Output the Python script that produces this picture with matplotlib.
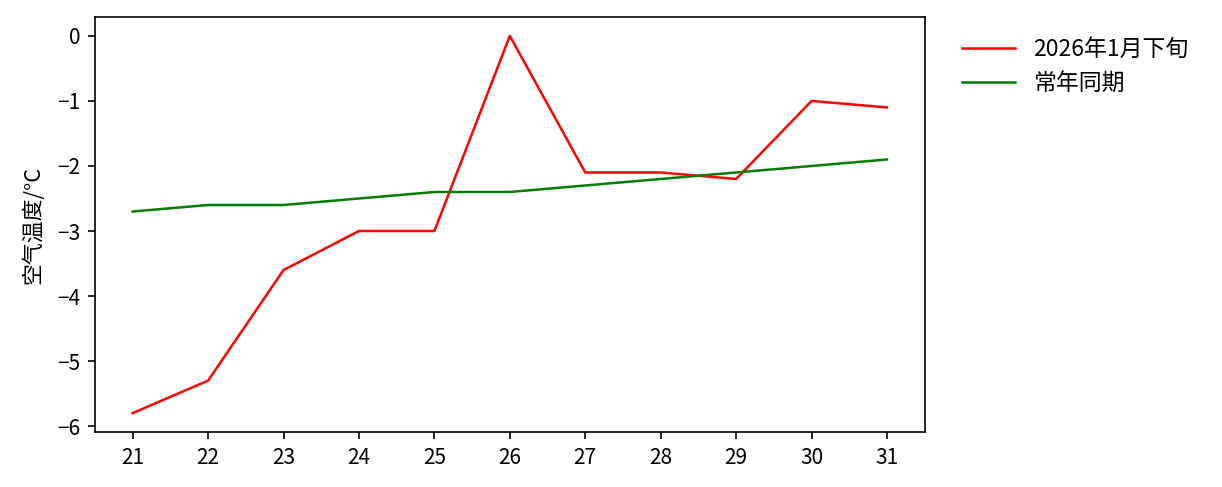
import matplotlib.pyplot as plt

plt.rcParams['font.family'] = ['Noto Sans CJK SC', 'DejaVu Sans']
plt.rcParams['axes.unicode_minus'] = True

# Dates (day of month, late January 2026)
days = [21, 22, 23, 24, 25, 26, 27, 28, 29, 30, 31]
# Air temperature this period
temp_2026 = [-5.8, -5.3, -3.6, -3.0, -3.0, 0.0, -2.1, -2.1, -2.2, -1.0, -1.1]
# Climatological normal
temp_normal = [-2.7, -2.6, -2.6, -2.5, -2.4, -2.4, -2.3, -2.2, -2.1, -2.0, -1.9]

fig = plt.figure(figsize=(1222 / 150, 487 / 150), dpi=150)
ax = fig.add_axes([0.0777, 0.113, 0.679, 0.852])

ax.plot(days, temp_2026, color="red", linewidth=1.2, label="2026年1月下旬")
ax.plot(days, temp_normal, color="green", linewidth=1.2, label="常年同期")

ax.set_xticks(days)
ax.set_yticks([-6, -5, -4, -3, -2, -1, 0])
ax.set_ylabel("空气温度/°C", fontsize=10.5, labelpad=6)

ax.legend(loc="upper left", bbox_to_anchor=(1.02, 1.0), frameon=False,
          fontsize=11, handlelength=2.3)

plt.savefig("out.png", dpi=150)
